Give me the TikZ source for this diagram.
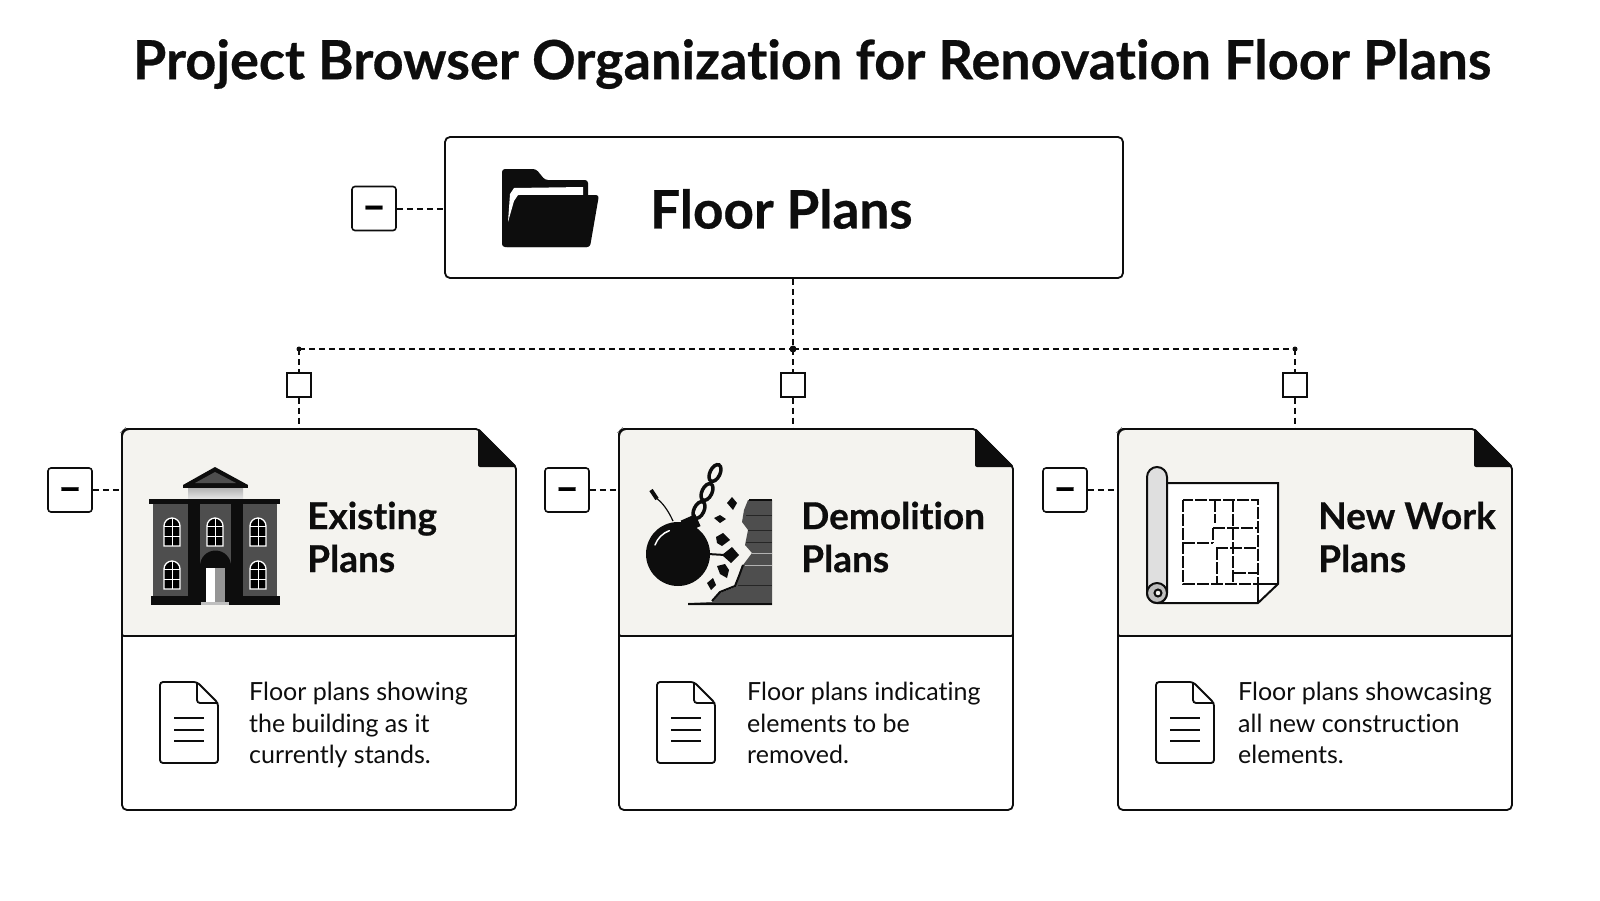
\documentclass[tikz,border=0pt]{standalone}
\usepackage{fontspec}
\setmainfont{Lato}[Ligatures=NoCommon,BoldFeatures={FakeBold=0.5}]

\definecolor{ink}{HTML}{0D0D0D}
\definecolor{panel}{HTML}{F4F3EF}
\definecolor{brick}{HTML}{4E4E4E}

\tikzset{
  rootbox/.style={draw=ink,fill=white,line width=1.8pt,rounded corners=5pt,minimum width=678pt,minimum height=141pt},
  plancard/.style={draw=ink,fill=white,line width=1.8pt,rounded corners=5pt,minimum width=394pt,minimum height=381pt},
  minusbox/.style={draw=ink,fill=white,line width=1.6pt,rounded corners=3pt,minimum size=44pt,font=\fontsize{38}{38}\selectfont\bfseries},
  tickbox/.style={draw=ink,fill=white,line width=1.3pt,minimum size=24pt},
  dashlink/.style={draw=ink,line width=2pt,dash pattern=on 6pt off 4pt},
  heading/.style={anchor=west,align=left,text=ink,font=\fontsize{37}{43}\selectfont\bfseries},
  bodytext/.style={anchor=west,align=left,text=ink,font=\fontsize{25}{31.5}\selectfont},
  wall/.style={draw=ink,line width=2.4pt,dash pattern=on 12pt off 2pt}
}

\newcommand{\minussign}{\raisebox{-11.8pt}[0pt][0pt]{\char"2212}}

\newcommand{\planpanel}[2]{
\node [plancard] (#1) at (#2+197,-619.5) {};
\begin{scope}[shift={(#2,0)}]
\fill [white] (354,-427) rectangle (396,-469);
\draw [ink,line width=1.8pt,fill=panel,rounded corners=2pt] (0,-636) -- (0,-434) -- (2,-431) -- (5,-429) -- (356,-429) -- (394,-467) -- (394,-636) -- cycle;
\fill [ink,rounded corners=2pt] (356,-428) -- (395,-467) -- (356,-467) -- cycle;
\draw [ink,line width=1.8pt,fill=white,rounded corners=3pt] (38,-682) -- (75,-682) -- (96,-703) -- (96,-763) -- (38,-763) -- cycle;
\draw [ink,line width=1.8pt,rounded corners=3pt] (75,-682) -- (75,-703) -- (96,-703);
\draw [ink,line width=1.8pt] (52,-718) -- (82,-718);
\draw [ink,line width=1.8pt] (52,-730) -- (82,-730);
\draw [ink,line width=1.8pt] (52,-741) -- (82,-741);
\end{scope}
}

\newcommand{\bldwindow}[2]{
\draw [white,line width=1.3pt,fill=black] (#1-8,#2) -- (#1-8,#2+20) arc (180:0:8) -- (#1+8,#2) -- cycle;
\draw [white,line width=1pt] (#1,#2) -- (#1,#2+28);
\draw [white,line width=1pt] (#1-8,#2+10) -- (#1+8,#2+10);
\draw [white,line width=1pt] (#1-8,#2+20) -- (#1+8,#2+20);
}

\begin{document}
\begin{tikzpicture}[x=1pt,y=1pt]
\tikzstyle{every node}+=[inner sep=0pt]
\useasboundingbox (0,0) rectangle (1600,-900);
\fill [white] (0,0) rectangle (1600,-900);

\node [text=ink,font=\fontsize{54}{58}\selectfont\bfseries] (title) at (812,-64) {Project Browser Organization for Renovation Floor Plans};

\coordinate (jA) at (299,-349);
\coordinate (jB) at (793,-349);
\coordinate (jC) at (1295,-349);
\node [rootbox] (root) at (784,-207.5) {};
\node [minusbox] (rootminus) at (374,-208.5) {\minussign};
\node [tickbox] (tickA) at (299,-385) {};
\node [tickbox] (tickB) at (793,-385) {};
\node [tickbox] (tickC) at (1295,-385) {};

\planpanel{cardA}{122}
\planpanel{cardB}{619}
\planpanel{cardC}{1118}

\node [minusbox] (minusA) at (70,-490) {\minussign};
\node [minusbox] (minusB) at (567,-490) {\minussign};
\node [minusbox] (minusC) at (1065,-490) {\minussign};

\draw [dashlink] (rootminus) -- (root.west |- rootminus);
\draw [dashlink] (root.south -| jB) -- (jB);
\draw [dashlink] (jA) -- (jB);
\draw [dashlink] (jB) -- (jC);
\draw [dashlink] (jA) -- (tickA);
\draw [dashlink] (jB) -- (tickB);
\draw [dashlink] (jC) -- (tickC);
\draw [dashlink] (tickA) -- (cardA.north -| tickA);
\draw [dashlink] (tickB) -- (cardB.north -| tickB);
\draw [dashlink] (tickC) -- (cardC.north -| tickC);
\draw [dashlink] (minusA) -- (cardA.west |- minusA);
\draw [dashlink] (minusB) -- (cardB.west |- minusB);
\draw [dashlink] (minusC) -- (cardC.west |- minusC);
\fill [ink] (jA) circle (2.5);
\fill [ink] (jB) circle (3.5);
\fill [ink] (jC) circle (2.5);

\node [anchor=west,text=ink,font=\fontsize{53}{60}\selectfont\bfseries] (rootlabel) at (650,-209) {Floor Plans};
\fill [ink,rounded corners=3pt] (502,-169) -- (536,-169) -- (545,-180) -- (588,-180) -- (588,-200) -- (590,-247) -- (502,-247) -- cycle;
\fill [white] (508,-222) -- (510,-194) -- (514,-188) -- (583,-187) -- (583,-195) -- (518,-195) -- (514,-201) -- cycle;
\fill [ink,rounded corners=3pt] (518,-195) -- (599,-195) -- (590,-247) -- (504,-247) -- cycle;

\node [heading] (headA) at (307,-537) {Existing\\Plans};
\node [heading] (headB) at (801,-537) {Demolition\\Plans};
\node [heading] (headC) at (1318,-537) {New Work\\Plans};
\node [bodytext] (textA) at (249,-725) {Floor plans showing\\the building as it\\currently stands.};
\node [bodytext] (textB) at (747,-723) {Floor plans indicating\\elements to be\\removed.};
\node [bodytext] (textC) at (1238,-723) {Floor plans showcasing\\all new construction\\elements.};

\fill [ink] (215,-467) -- (248,-485) -- (183,-485) -- cycle;
\fill [brick] (215,-472) -- (236,-483) -- (195,-483) -- cycle;
\fill [ink] (183,-485) rectangle (248,-488);
\shade [top color=gray!60,bottom color=gray!20] (188,-488) rectangle (243,-499);
\fill [ink] (149,-499) rectangle (280,-504);
\fill [brick] (153,-504) rectangle (277,-596);
\fill [ink] (188,-504) rectangle (243,-596);
\fill [brick] (200,-504) rectangle (231,-596);
\fill [ink] (200,-566) arc (180:0:15.5) -- (231,-603) -- (200,-603) -- cycle;
\fill [ink] (151,-596) rectangle (280,-605);
\fill [brick!60] (206,-568) rectangle (225,-602);
\fill [white] (206,-568) rectangle (215,-602);
\fill [gray!50] (201,-602) rectangle (229,-605);
\bldwindow{172}{-546}
\bldwindow{215}{-546}
\bldwindow{258}{-546}
\bldwindow{172}{-589}
\bldwindow{258}{-589}

\fill [brick] (748,-500) -- (772,-500) -- (772,-605) -- (688,-605) -- (688,-603) -- (712,-602) -- (720,-593) -- (735,-587) -- (739,-577) -- (743,-565) -- (752,-553) -- (745,-545) -- (748,-530) -- (742,-522) -- (744,-510) -- cycle;
\draw [ink,line width=2pt] (749,-500) -- (772,-500);
\draw [ink,line width=2pt] (688,-604) -- (772,-604);
\draw [ink,line width=2pt] (712,-601) -- (720,-592) -- (735,-586) -- (739,-576) -- (743,-565);
\draw [black!85,line width=1pt] (746,-515) -- (772,-515);
\draw [black!85,line width=1pt] (748,-530) -- (772,-530);
\draw [black!85,line width=1pt] (746,-542) -- (772,-542);
\draw [gray!60,line width=1pt] (752,-553) -- (772,-553);
\draw [gray!60,line width=1pt] (745,-565) -- (772,-565);
\draw [black!85,line width=1pt] (738,-585) -- (772,-585);
\fill [ink] (678,-554) circle (32);
\fill [ink,rotate around={24:(690,-522)}] (682,-517) rectangle (698,-530);
\draw [white,line width=1.5pt,line cap=round] (655,-545) arc (160:110:24);
\draw [ink,line width=3.5pt,rotate around={64:(699,-510)}] (699,-510) ellipse (9 and 5);
\draw [ink,line width=3.5pt,rotate around={64:(707,-492)}] (707,-492) ellipse (9 and 5);
\draw [ink,line width=3.5pt,rotate around={64:(715,-473)}] (715,-473) ellipse (9 and 5);
\draw [ink,line width=1.2pt] (673,-521) .. controls (668,-510) and (662,-502) .. (656,-498);
\draw [ink,line width=4pt] (651,-490) -- (657,-499);
\draw [ink,line width=2pt] (708,-554) -- (725,-555);
\fill [ink] (722,-555) -- (732,-547) -- (739,-555) -- (731,-563) -- cycle;
\fill [ink] (732,-497) -- (737,-503) -- (733,-510) -- (727,-503) -- cycle;
\fill [ink] (714,-518) -- (720,-515) -- (726,-519) -- (720,-523) -- cycle;
\fill [ink] (716,-537) -- (723,-533) -- (730,-540) -- (722,-546) -- (717,-543) -- cycle;
\fill [ink] (717,-566) -- (725,-564) -- (729,-570) -- (727,-578) -- (720,-574) -- cycle;
\fill [ink] (707,-583) -- (713,-578) -- (716,-585) -- (711,-590) -- cycle;

\draw [ink,line width=2pt,fill=white] (1160,-483) -- (1278,-483) -- (1278,-584) -- (1258,-603) -- (1157,-603);
\draw [ink,line width=2pt] (1278,-584) -- (1258,-584) -- (1258,-603);
\draw [ink,line width=2pt,fill=gray!25] (1167,-593) -- (1167,-477) arc (0:180:10) -- (1147,-593) arc (180:360:10);
\draw [ink,line width=2pt,fill=gray!50] (1157,-583) arc (90:-270:10);
\draw [ink,line width=2pt,fill=panel] (1158,-593) circle (3.5);
\draw [wall] (1183,-500) rectangle (1258,-584);
\draw [wall] (1215,-500) -- (1215,-523);
\draw [wall] (1233,-500) -- (1233,-584);
\draw [wall] (1213,-528) -- (1258,-528);
\draw [wall] (1183,-543) -- (1213,-543);
\draw [wall] (1213,-528) -- (1213,-543);
\draw [wall] (1216,-548) -- (1258,-548);
\draw [wall] (1217,-548) -- (1217,-584);
\draw [wall] (1234,-573) -- (1258,-573);
\end{tikzpicture}
\end{document}
